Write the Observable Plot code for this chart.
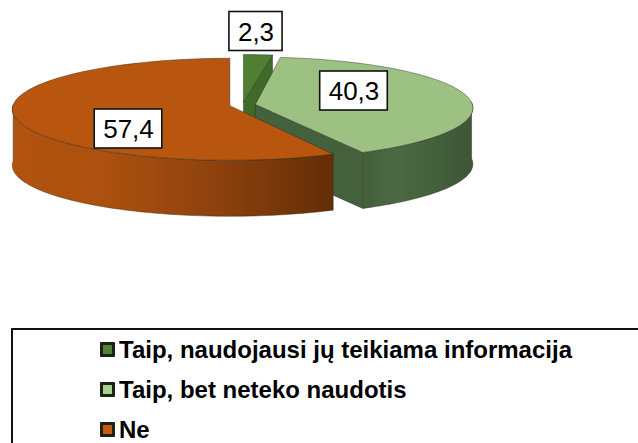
<!DOCTYPE html>
<html><head><meta charset="utf-8">
<script src="https://cdn.jsdelivr.net/npm/d3@7"></script>
<script src="https://cdn.jsdelivr.net/npm/@observablehq/plot@0.6"></script>
<style>
html,body{margin:0;padding:0;background:#fff;overflow:hidden;width:638px;height:443px}
svg{display:block}
#legend{position:absolute;left:11px;top:328px;width:700px;height:130px;border:2px solid #111;box-sizing:border-box;font:bold 24px "Liberation Sans",Arial,sans-serif;color:#000}
.row{position:absolute;left:87px;display:flex;align-items:center;height:26px;white-space:nowrap}
.sw{display:inline-block;width:15px;height:15px;border:3px solid #1a221a;border-radius:1px;box-sizing:border-box;margin-right:4px}
</style></head><body>
<div id="chart"></div><div id="legend"></div>
<script>
const categories = ["Taip, naudojausi jų teikiama informacija", "Taip, bet neteko naudotis", "Ne"];
const values = [2.3, 40.3, 57.4];
const valueLabels = ["2,3", "40,3", "57,4"];
const topColors = ["#4f7f33", "#9dc183", "#b8560f"];
const legendColors = ["#548235", "#a9d18e", "#c55a11"];

const W = 638, H = 328;
const cx = 242, cy = 104.5, rx = 217, ry = 51, depth = 56, explode = 0.06, persp = 0.07;
const sliceTurn = [0, -0.02, 0];
const labelPos = [[255.5, 31], [353.5, 90.5], [128, 128.5]];
const boxH = 39, boxPad = 8.5, fontSize = 26;

const total = d3.sum(values);
let acc = 0;
const slices = values.map((v, i) => {
  const a0 = acc / total * 2 * Math.PI; acc += v;
  const a1 = acc / total * 2 * Math.PI;
  const m = (a0 + a1) / 2;
  return {i, a0, a1, turn: sliceTurn[i], ax: cx + explode * rx * Math.sin(m), ay: cy - explode * ry * Math.cos(m)};
});
const pt = (s, t, dz = 0) => {
  const u = t + s.turn;
  const p = 1 - persp * Math.cos(u);
  return {x: s.ax + rx * Math.sin(u) * p, y: s.ay - ry * Math.cos(u) * p + dz};
};
const arc = (s, t0, t1, dz = 0) => d3.range(61).map(k => pt(s, t0 + (t1 - t0) * k / 60, dz));
const apex = (s, dz = 0) => ({x: s.ax, y: s.ay + dz});
const topFace = s => [apex(s), ...arc(s, s.a0, s.a1), apex(s)];
const radialWall = (s, t) => [apex(s), pt(s, t), pt(s, t, depth), apex(s, depth), apex(s)];
const arcWall = (s, t0, t1) => [...arc(s, t0, t1), ...arc(s, t1, t0, depth)];
const poly = (pts, fill, stroke = "#2c2c1a", w = 0.6) =>
  Plot.line([...pts, pts[0]], {x: "x", y: "y", fill, stroke, strokeWidth: w, strokeOpacity: 0.75, curve: "linear"});

const [sD, sL, sO] = slices;
const defs = () => {
  const mk = d3.create("svg:defs");
  const grad = (id, stops) => {
    const g = mk.append("linearGradient").attr("id", id).attr("x1", 0).attr("x2", 1).attr("y1", 0).attr("y2", 0);
    stops.forEach(([o, c]) => g.append("stop").attr("offset", o).attr("stop-color", c));
  };
  grad("orangeSide", [[0, "#b2530f"], [0.3, "#ab500f"], [0.62, "#8f420e"], [1, "#642e06"]]);
  grad("greenSide", [[0, "#445f3a"], [0.3, "#4a6a42"], [1, "#3d5636"]]);
  return mk.node();
};

const labelRows = valueLabels.map((label, i) => {
  const w = (label.length - 1) * 0.556 * fontSize + 0.278 * fontSize + boxPad * 2;
  const [x, y] = labelPos[i];
  return {label, x, y, x1: x - w / 2, x2: x + w / 2, y1: y - boxH / 2, y2: y + boxH / 2};
});

const chart = Plot.plot({
  width: W, height: H, margin: 0,
  x: {domain: [0, W], range: [0, W], axis: null},
  y: {domain: [0, H], range: [0, H], axis: null},
  marks: [
    defs,
    poly(radialWall(sD, sD.a1), "#3f6a2a"),
    poly(topFace(sD), topColors[0]),
    poly(radialWall(sL, sL.a1), "#44603c"),
    poly(arcWall(sL, Math.PI / 2 - 0.02, sL.a1), "url(#greenSide)"),
    poly(topFace(sL), topColors[1]),
    poly(arcWall(sO, sO.a0, 3 * Math.PI / 2 + 0.02), "url(#orangeSide)"),
    poly(topFace(sO), topColors[2]),
    Plot.rect(labelRows, {x1: "x1", x2: "x2", y1: "y1", y2: "y2", fill: "#fff", stroke: "#111", strokeWidth: 1.6}),
    Plot.text(labelRows, {x: "x", y: "y", text: "label", fontSize, fontFamily: "Liberation Sans", fill: "#000", dy: 1})
  ]
});
document.getElementById("chart").append(chart);

const legend = d3.select("#legend");
const rowTops = [6.5, 46.5, 86.5];
categories.forEach((c, i) => {
  const r = legend.append("div").attr("class", "row").style("top", rowTops[i] + "px");
  r.append("span").attr("class", "sw").style("background", legendColors[i]);
  r.append("span").text(c);
});
</script></body></html>
